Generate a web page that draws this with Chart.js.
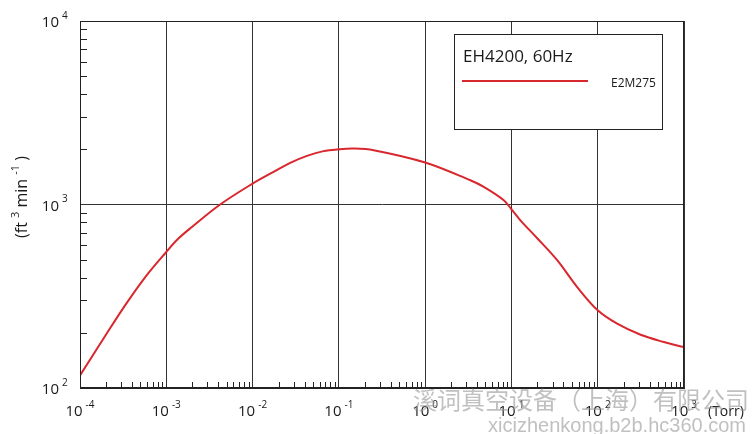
<!DOCTYPE html>
<html>
<head>
<meta charset="utf-8">
<script src="https://cdn.jsdelivr.net/npm/chart.js@4"></script>
<style>
  body { margin: 0; background: #fff; }
  #wrap { width: 753px; height: 434px; }
</style>
</head>
<body>
<div id="wrap"><canvas id="chart" width="753" height="434"></canvas></div>
<script>
// pressure (Torr) and pumping speed (ft3/min)
const pressure = [1e-4, 2.04e-4, 3.33e-4, 5.68e-4, 1e-3, 1.38e-3, 1.98e-3, 4.21e-3, 1e-2, 0.0175,
  0.0273, 0.0427, 0.0664, 0.1, 0.148, 0.253, 1, 3.34, 4.78, 8.15,
  10, 12.7, 19.9, 33.9, 57.8, 100, 168, 314, 585, 1000];
const speed = [117, 198, 282, 401, 551, 652, 754, 1000, 1300, 1507,
  1687, 1841, 1954, 2000, 2018, 1977, 1694, 1355, 1247, 1055,
  942, 820, 655, 497, 355, 265, 224, 195, 178, 167];

const xDecades = [1e-4, 1e-3, 1e-2, 1e-1, 1, 10, 100, 1000];
const xExponents = ['-4', '-3', '-2', '-1', '0', '1', '2', '3'];
const yDecades = [100, 1000, 10000];
const yExponents = ['2', '3', '4'];

const seriesLabel = 'E2M275';
const boxTitle = 'EH4200, 60Hz';
const xUnit = '(Torr)';
const watermark1 = '溪词真空设备（上海）有限公司';
const watermark2 = 'xicizhenkong.b2b.hc360.com';

const FONT = '"Open Sans", "Noto Sans", sans-serif';
const RED = '#d9272e';
const INK = '#1a1a1a';

function power(ctx, base, exp, x, y, size, align) {
  // draws "10" with a raised exponent; align 'center' or 'right' (right = end of base)
  ctx.font = size + 'px ' + FONT;
  const wb = ctx.measureText(base).width;
  ctx.font = Math.round(size * 0.68) + 'px ' + FONT;
  const we = ctx.measureText(exp).width;
  let x0;
  if (align === 'center') x0 = x - (wb + 3 + we) / 2;
  else x0 = x - wb;
  ctx.textAlign = 'left';
  ctx.textBaseline = 'alphabetic';
  ctx.font = size + 'px ' + FONT;
  ctx.fillText(base, x0, y);
  ctx.font = Math.round(size * 0.68) + 'px ' + FONT;
  ctx.fillText(exp, x0 + wb + 3, y - size * 0.55);
}

const decor = {
  id: 'decor',
  afterDatasetsDraw(chart) {
    const ctx = chart.ctx;
    const a = chart.chartArea;
    const xs = chart.scales.x, ys = chart.scales.y;
    ctx.save();
    // frame
    ctx.strokeStyle = '#222';
    ctx.lineWidth = 1;
    ctx.strokeRect(Math.round(a.left) + 0.5, Math.round(a.top) + 0.5,
      Math.round(a.right - a.left) - 1, Math.round(a.bottom - a.top) - 1);
    // minor ticks
    ctx.beginPath();
    for (let d = -4; d < 3; d++) {
      for (let m = 2; m <= 9; m++) {
        const px = Math.round(xs.getPixelForValue(m * Math.pow(10, d))) + 0.5;
        ctx.moveTo(px, a.bottom);
        ctx.lineTo(px, a.bottom - 6);
      }
    }
    for (let d = 2; d < 4; d++) {
      for (let m = 2; m <= 9; m++) {
        const py = Math.round(ys.getPixelForValue(m * Math.pow(10, d))) + 0.5;
        ctx.moveTo(a.left, py);
        ctx.lineTo(a.left + 7, py);
      }
    }
    ctx.stroke();

    // legend box
    const bx = 454.5, by = 34.5, bw = 208, bh = 95;
    ctx.fillStyle = '#fff';
    ctx.fillRect(bx, by, bw, bh);
    ctx.strokeStyle = '#222';
    ctx.strokeRect(bx, by, bw, bh);
    ctx.fillStyle = INK;
    ctx.font = '17px ' + FONT;
    ctx.textAlign = 'left';
    ctx.textBaseline = 'alphabetic';
    ctx.fillText(boxTitle, 463, 62);
    ctx.strokeStyle = RED;
    ctx.lineWidth = 2;
    ctx.beginPath();
    ctx.moveTo(462, 81);
    ctx.lineTo(588, 81);
    ctx.stroke();
    ctx.font = '12px ' + FONT;
    ctx.fillText(chart.data.datasets[0].label, 611, 87);

    // tick labels
    ctx.fillStyle = INK;
    xDecades.forEach((v, i) => {
      power(ctx, '10', xExponents[i], xs.getPixelForValue(v), 416, 15, 'center');
    });
    yDecades.forEach((v, i) => {
      power(ctx, '10', yExponents[i], 59, ys.getPixelForValue(v) + 6, 15, 'right');
    });
    ctx.font = '14px ' + FONT;
    ctx.textAlign = 'left';
    ctx.fillText(xUnit, 708, 416);

    // y axis title
    ctx.translate(27, 197);
    ctx.rotate(-Math.PI / 2);
    const parts = [['(ft ', 16, 0], ['3', 11, -8], [' min ', 16, 0], ['-1', 11, -8], [' )', 16, 0]];
    let total = 0;
    parts.forEach(p => { ctx.font = p[1] + 'px ' + FONT; total += ctx.measureText(p[0]).width; });
    let cx = -total / 2;
    parts.forEach(p => {
      ctx.font = p[1] + 'px ' + FONT;
      ctx.fillText(p[0], cx, p[2]);
      cx += ctx.measureText(p[0]).width;
    });
    ctx.restore();

    // watermark
    ctx.save();
    ctx.fillStyle = 'rgba(150,150,150,0.6)';
    ctx.textBaseline = 'alphabetic';
    ctx.textAlign = 'left';
    ctx.font = '24px "Noto Sans CJK SC", sans-serif';
    ctx.fillText(watermark1, 413, 409);
    ctx.textAlign = 'right';
    ctx.font = '20px "Liberation Sans", sans-serif';
    ctx.fillText(watermark2, 746, 432);
    ctx.restore();
  }
};

new Chart(document.getElementById('chart'), {
  type: 'line',
  data: {
    datasets: [{
      label: seriesLabel,
      data: pressure.map((p, i) => ({ x: p, y: speed[i] })),
      borderColor: RED,
      borderWidth: 2,
      pointRadius: 0,
      tension: 0.35,
      fill: false
    }]
  },
  options: {
    responsive: false,
    animation: false,
    layout: { padding: { left: 0, top: 21, right: 69, bottom: 0 } },
    plugins: { legend: { display: false }, tooltip: { enabled: false } },
    scales: {
      x: {
        type: 'logarithmic',
        min: 1e-4, max: 1e3,
        afterBuildTicks: s => { s.ticks = xDecades.map(v => ({ value: v })); },
        afterFit: s => { s.height = 46; },
        ticks: { display: false },
        grid: { color: '#333', lineWidth: 1, drawTicks: false },
        border: { color: '#222' }
      },
      y: {
        type: 'logarithmic',
        min: 100, max: 10000,
        afterBuildTicks: s => { s.ticks = yDecades.map(v => ({ value: v })); },
        afterFit: s => { s.width = 80; },
        ticks: { display: false },
        grid: { color: '#333', lineWidth: 1, drawTicks: false },
        border: { color: '#222' }
      }
    }
  },
  plugins: [decor]
});
</script>
</body>
</html>
